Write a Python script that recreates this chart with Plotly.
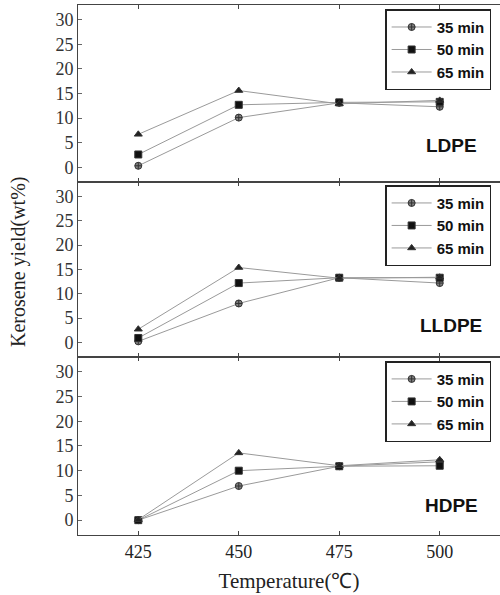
import plotly.graph_objects as go

temps = [425, 450, 475, 500]
times = ["35 min", "50 min", "65 min"]
polymers = ["LDPE", "LLDPE", "HDPE"]

ldpe = {
    "35 min": [0.3, 10.1, 13.1, 12.3],
    "50 min": [2.6, 12.7, 13.2, 13.3],
    "65 min": [6.7, 15.6, 12.9, 13.6],
}
lldpe = {
    "35 min": [0.2, 8.0, 13.3, 12.2],
    "50 min": [0.9, 12.2, 13.3, 13.3],
    "65 min": [2.7, 15.4, 13.2, 13.4],
}
hdpe = {
    "35 min": [0.0, 6.9, 10.9, 11.8],
    "50 min": [0.0, 10.0, 10.9, 11.0],
    "65 min": [0.1, 13.6, 11.0, 12.2],
}
data = [ldpe, lldpe, hdpe]

x_ticks = [425, 450, 475, 500]
y_ticks = [0, 5, 10, 15, 20, 25, 30]

symbols = {"35 min": "circle-cross", "50 min": "square", "65 min": "triangle-up"}
mcolors = {"35 min": "#808080", "50 min": "#111111", "65 min": "#222222"}
msizes = {"35 min": 7, "50 min": 7, "65 min": 7}

serif = "Liberation Serif, Times New Roman, serif"
sans = "Liberation Sans, Arial, sans-serif"

fig = go.Figure()

domains = [[0.666, 1.0], [0.336, 0.666], [0.0, 0.336]]
legend_names = ["legend", "legend2", "legend3"]
legend_y = [0.992, 0.660, 0.328]
label_y = [145, 325, 505]

for i, (poly, d) in enumerate(zip(polymers, data)):
    ax = "" if i == 0 else str(i + 1)
    for t in times:
        fig.add_trace(go.Scatter(
            x=temps, y=d[t], name=t, mode="lines+markers",
            line=dict(color="#9a9a9a", width=1),
            marker=dict(symbol=symbols[t], size=msizes[t], color=mcolors[t],
                        line=dict(color="#333333", width=1)),
            xaxis="x" + ax, yaxis="y" + ax,
            legend=legend_names[i],
        ))

layout = dict(
    width=500, height=595,
    margin=dict(l=78, r=0, t=5, b=60),
    paper_bgcolor="white", plot_bgcolor="white",
    showlegend=True,
)

for i in range(3):
    ax = "" if i == 0 else str(i + 1)
    layout["xaxis" + ax] = dict(
        domain=[0, 1], range=[410, 515], tickvals=x_ticks,
        showticklabels=(i == 2), anchor="y" + ax,
        showline=True, linecolor="#444", linewidth=1, mirror="allticks",
        ticks="inside", ticklen=4, tickcolor="#444",
        showgrid=False, zeroline=False,
        tickfont=dict(family=serif, size=18, color="#222"),
        matches="x" if i > 0 else None,
    )
    layout["yaxis" + ax] = dict(
        domain=domains[i], range=[-3, 33], tickvals=y_ticks,
        anchor="x" + ax,
        showline=True, linecolor="#444", linewidth=1, mirror=False,
        ticks="inside", ticklen=4, tickcolor="#666",
        showgrid=False, zeroline=False,
        tickfont=dict(family=serif, size=18, color="#333"),
    )
    layout[legend_names[i]] = dict(
        x=0.979, y=legend_y[i], xanchor="right", yanchor="top",
        bgcolor="white", bordercolor="#222", borderwidth=1.5,
        font=dict(family=sans, size=15, color="#111", weight="bold"),
        tracegroupgap=0, itemwidth=40,
    )

fig.update_layout(**layout)
fig.layout.xaxis3.title = dict(text="Temperature(℃)", font=dict(family=serif, size=21, color="#222"), standoff=12)

for i, poly in enumerate(polymers):
    fig.add_annotation(
        text="<b>%s</b>" % poly, xref="paper", yref="paper",
        x=(451 - 78) / 422, y=(535 - label_y[i]) / 530,
        xanchor="center", yanchor="middle", showarrow=False,
        font=dict(family=sans, size=19, color="#111"),
    )

fig.add_annotation(
    text="Kerosene yield(wt%)", xref="paper", yref="paper",
    x=(18 - 78) / 422, y=(535 - 262) / 530, xanchor="center", yanchor="middle",
    textangle=-90, showarrow=False,
    font=dict(family=serif, size=20, color="#222"),
)

fig.write_html("out.html")
